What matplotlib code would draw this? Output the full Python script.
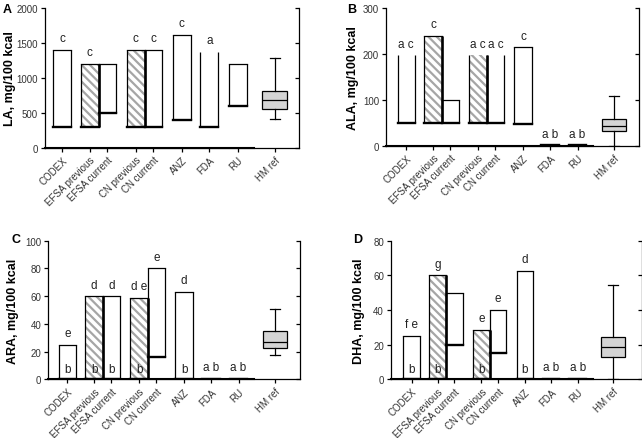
import matplotlib.pyplot as plt

plt.rcParams['font.family'] = ['Liberation Sans', 'DejaVu Sans']
plt.rcParams['hatch.linewidth'] = 1.6

categories = ['CODEX', 'EFSA previous', 'EFSA current', 'CN previous', 'CN current',
              'ANZ', 'FDA', 'RU', 'HM ref']

# floating bars: min / max per regulation, HM ref as box (whislo, q1, med, q3, whishi)
la_min = [300, 300, 500, 300, 300, 400, 300, 600]
la_max = [1400, 1200, 1200, 1400, 1400, 1620, 1370, 1200]
la_hm = [405, 557, 683, 807, 1290]
la_top = ['c', 'c', '', 'c', 'c', 'c', 'a', '']
la_in = ['', '', '', '', '', '', '', '']
la_open = [False, False, False, False, False, False, True, False]

ala_min = [50, 50, 50, 50, 50, 48, 1, 1]
ala_max = [197, 240, 100, 197, 197, 214, 1, 1]
ala_hm = [0, 33, 44, 59, 108]
ala_top = ['a c', 'c', '', 'a c', 'a c', 'c', 'a b', 'a b']
ala_in = ['', '', '', '', '', '', '', '']
ala_open = [True, False, False, True, True, False, False, False]

ara_min = [0, 0, 0, 0, 16, 0, 0.4, 0.4]
ara_max = [25, 60, 60, 58.7, 80, 63, 0.4, 0.4]
ara_hm = [17.5, 22.8, 26.9, 35.1, 50.7]
ara_top = ['e', 'd', 'd', 'd e', 'e', 'd', 'a b', 'a b']
ara_in = ['b', 'b', 'b', 'b', '', 'b', '', '']
ara_open = [False] * 8

dha_min = [0, 0, 20, 0, 15, 0, 0.3, 0.3]
dha_max = [25, 60, 50, 28.7, 40, 62.7, 0.3, 0.3]
dha_hm = [0, 12.9, 18.6, 24.4, 54.4]
dha_top = ['f e', 'g', '', 'e', 'e', 'd', 'a b', 'a b']
dha_in = ['b', 'b', '', 'b', '', 'b', '', '']
dha_open = [False] * 8

hatched = [False, True, False, True, False, False, False, False]
pos = [0, 1.55, 2.55, 4.15, 5.15, 6.75, 8.3, 9.9]
hm_pos = 12.0

W, H = 642, 439
fig = plt.figure(figsize=(W / 100, H / 100), dpi=100)


def px_axes(l, r, t, b):
    return fig.add_axes([l / W, 1 - b / H, (r - l) / W, (b - t) / H])


def panel(ax, lo, hi, hm, top_txt, in_txt, open_top, ymax, ystep, ylabel, xlim,
          letter, letter_xy, ylab_px, left_px, width_px):
    for i in range(len(lo)):
        x = pos[i]
        l, r = x - 0.5, x + 0.5
        if hatched[i]:
            ax.bar(x, hi[i] - lo[i], bottom=lo[i], width=1, color='white',
                   edgecolor='#a6a6a6', hatch='\\\\\\\\', linewidth=0, zorder=1)
        else:
            ax.bar(x, hi[i] - lo[i], bottom=lo[i], width=1, color='white',
                   linewidth=0, zorder=1)
        ax.vlines(l, lo[i], hi[i], color='black', lw=0.9, zorder=2)
        ax.vlines(r, lo[i], hi[i], color='black', lw=1.9 if hatched[i] else 0.9, zorder=3)
        if not open_top[i]:
            ax.hlines(hi[i], l, r, color='black', lw=0.9, zorder=2, capstyle='projecting')
        ax.hlines(lo[i], l, r, color='black', lw=1.7, zorder=3, capstyle='projecting')
        if top_txt[i]:
            ax.annotate(top_txt[i], (x, hi[i]), xytext=(0, 4), textcoords='offset points',
                        ha='center', va='bottom', fontsize=8.5, color='#222222')
        if in_txt[i]:
            ax.annotate(in_txt[i], (x, 0), xytext=(0, 3), textcoords='offset points',
                        ha='center', va='bottom', fontsize=8.5, color='#222222')

    stats = [{'whislo': hm[0], 'q1': hm[1], 'med': hm[2], 'q3': hm[3],
              'whishi': hm[4], 'fliers': []}]
    ax.bxp(stats, positions=[hm_pos], widths=1.4, capwidths=0.6, patch_artist=True,
           showfliers=False, manage_ticks=False,
           boxprops=dict(facecolor='#d4d4d4', edgecolor='black', linewidth=0.9),
           medianprops=dict(color='black', linewidth=0.9),
           whiskerprops=dict(color='black', linewidth=0.9),
           capprops=dict(color='black', linewidth=0.9))

    yt = list(range(0, ymax + 1, ystep))
    ax.set_xlim(xlim)
    ax.set_ylim(0, ymax)
    ax.set_yticks(yt)
    ax.set_xticks(pos + [hm_pos])
    ax.set_xticklabels(categories, rotation=45, ha='right', rotation_mode='anchor')
    ax.tick_params(direction='out', length=3, width=0.9, labelsize=7,
                   labelcolor='#333333', pad=2)
    for s in ['top', 'right']:
        ax.spines[s].set_visible(False)
    for s in ['left', 'bottom']:
        ax.spines[s].set_linewidth(0.9)
    frac = (10.8 - xlim[0]) / (xlim[1] - xlim[0])
    ax.axhline(0, xmin=0, xmax=frac, color='black', lw=1.5, clip_on=False, zorder=4)

    ax.set_ylabel(ylabel, fontsize=9, fontweight='bold', va='center')
    ax.yaxis.set_label_coords((ylab_px - left_px) / width_px, 0.5)

    ax2 = ax.twinx()
    ax2.set_ylim(0, ymax)
    ax2.set_yticks(yt)
    ax2.tick_params(axis='y', direction='in', length=3, width=0.9, labelright=False)
    for s in ['top', 'left', 'bottom']:
        ax2.spines[s].set_visible(False)
    ax2.spines['right'].set_linewidth(0.9)

    fig.text(letter_xy[0] / W, 1 - letter_xy[1] / H, letter, fontsize=9,
             fontweight='bold', va='center', ha='left')


axA = px_axes(45, 299, 9, 148.7)
panel(axA, la_min, la_max, la_hm, la_top, la_in, la_open, 2000, 500,
      'LA, mg/100 kcal', (-0.97, 13.36), 'A', (3, 10), 10, 45, 254)

axB = px_axes(386, 639, 9, 146.7)
panel(axB, ala_min, ala_max, ala_hm, ala_top, ala_in, ala_open, 300, 100,
      'ALA, mg/100 kcal', (-1.17, 13.45), 'B', (347, 10), 353, 386, 253)

axC = px_axes(48.3, 300, 241.7, 380.3)
panel(axC, ara_min, ara_max, ara_hm, ara_top, ara_in, ara_open, 100, 20,
      'ARA, mg/100 kcal', (-1.1, 13.45), 'C', (12, 240), 13, 48.3, 251.7)

axD = px_axes(391, 641.5, 241.7, 380.3)
panel(axD, dha_min, dha_max, dha_hm, dha_top, dha_in, dha_open, 80, 20,
      'DHA, mg/100 kcal', (-1.23, 13.7), 'D', (353, 240), 359, 391, 250.5)

fig.savefig('out.png', dpi=100)
